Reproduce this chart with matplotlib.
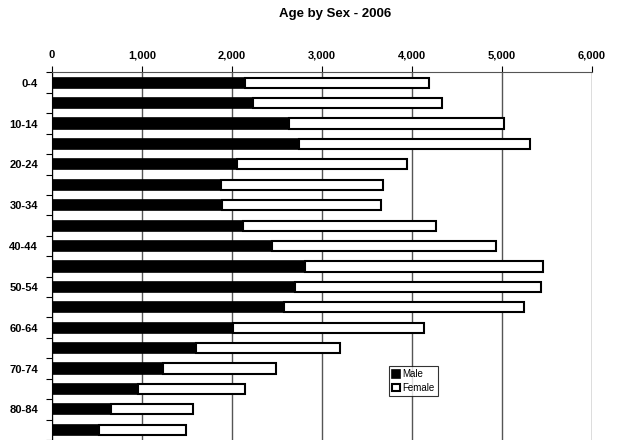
import numpy as np
import matplotlib
matplotlib.use("Agg")
import matplotlib.pyplot as plt
from matplotlib.ticker import FuncFormatter

plt.rcParams["font.family"] = ["Liberation Sans", "DejaVu Sans"]

# population by five-year age group, 2006
age_groups = ["0-4", "5-9", "10-14", "15-19", "20-24", "25-29", "30-34", "35-39",
              "40-44", "45-49", "50-54", "55-59", "60-64", "65-69", "70-74",
              "75-79", "80-84", "85+"]
male = [2140, 2233, 2629, 2740, 2051, 1878, 1889, 2122, 2444, 2814, 2700,
        2578, 2007, 1596, 1237, 956, 656, 522]
female = [2052, 2100, 2389, 2567, 1889, 1803, 1762, 2145, 2493, 2645, 2737,
          2666, 2130, 1604, 1255, 1184, 911, 963]
x_ticks = [0, 1000, 2000, 3000, 4000, 5000, 6000]

fig = plt.figure(figsize=(6.21, 4.4), dpi=100)
ax = fig.add_axes([52 / 621, 0.0, 540 / 621, 1 - 72.5 / 440])

y = np.arange(len(age_groups))
ax.barh(y, male, height=0.5, color="black", edgecolor="black",
        linewidth=1.2, label="Male", zorder=3)
ax.barh(y, female, left=male, height=0.5, color="white", edgecolor="black",
        linewidth=1.5, label="Female", zorder=3)

ax.set_xlim(0, 6000)
ax.set_ylim(len(age_groups) - 0.5, -0.5)

# value axis on top
ax.xaxis.tick_top()
ax.set_xticks(x_ticks)
ax.xaxis.set_major_formatter(FuncFormatter(lambda v, p: f"{int(v):,}"))
ax.tick_params(axis="x", direction="out", length=4, width=0.8, pad=5,
               labelsize=8, colors="black")
for lbl in ax.get_xticklabels():
    lbl.set_fontweight("bold")
ax.grid(axis="x", color="#555555", linewidth=1.0, zorder=0)

# every other age label, ticks between categories
ax.set_yticks(y[::2])
ax.set_yticklabels(age_groups[::2], fontweight="bold", fontsize=8)
ax.set_yticks(np.arange(-0.5, len(age_groups), 1), minor=True)
ax.tick_params(axis="y", which="major", length=0, pad=10)
ax.tick_params(axis="y", which="minor", direction="out", length=4, width=0.8)

for side in ["right", "bottom"]:
    ax.spines[side].set_visible(False)
ax.spines["top"].set_color("#555555")
ax.spines["left"].set_color("black")

fig.text(334.7 / 621, 1 - 14 / 440, "Age by Sex - 2006", fontsize=9.5,
         fontweight="bold", ha="center", va="center")

leg = ax.legend(loc="upper left", bbox_to_anchor=(337 / 540, 1 - (366 - 72.5) / 367.5),
                fontsize=7, frameon=True, fancybox=False, borderpad=0.35,
                handlelength=0.8, handleheight=0.8, handletextpad=0.2,
                labelspacing=0.35, borderaxespad=0)
leg.get_frame().set_edgecolor("black")
leg.get_frame().set_linewidth(0.8)

fig.savefig("out.png", dpi=100)
